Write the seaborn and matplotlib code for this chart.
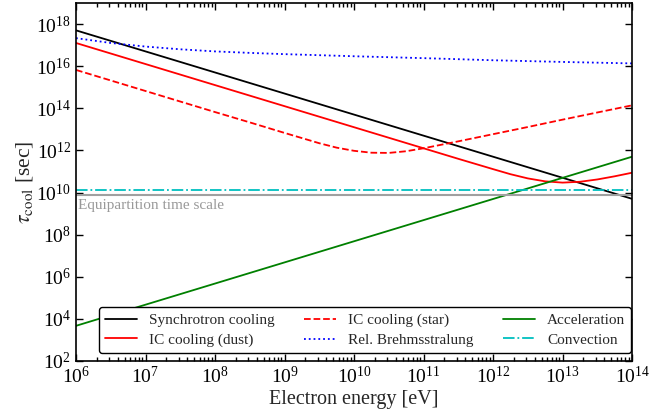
import numpy as np
import seaborn as sns
import matplotlib
matplotlib.use("Agg")
import matplotlib.pyplot as plt
from matplotlib.ticker import LogLocator, NullLocator

# values, stored as log10 (energy in eV, time in sec)
sync_logE = [6, 14]
sync_logt = [17.7, 9.7]

dust_logE = [6, 7, 8, 9, 10, 11, 11.5, 12, 12.25, 12.5, 12.75, 13, 13.25, 13.5, 13.75, 14]
dust_logt = [17.1, 16.1, 15.1, 14.1, 13.1, 12.1, 11.6, 11.11, 10.87, 10.67, 10.53, 10.47, 10.51, 10.62, 10.77, 10.94]

star_logE = [6, 7, 8, 8.5, 9, 9.5, 9.75, 10, 10.25, 10.5, 10.75, 11, 11.5, 12, 12.5, 13, 13.5, 14]
star_logt = [15.82, 14.82, 13.82, 13.33, 12.83, 12.34, 12.13, 11.98, 11.89, 11.88, 11.96, 12.1, 12.43, 12.77, 13.11, 13.46, 13.8, 14.14]

brems_logE = [6, 6.5, 7, 7.5, 8, 8.5, 9, 10, 11, 12, 13, 14]
brems_logt = [17.33, 17.1, 16.93, 16.8, 16.7, 16.63, 16.57, 16.47, 16.38, 16.28, 16.2, 16.13]

acc_logE = [6, 14]
acc_logt = [3.67, 11.7]

conv_logE = [6, 14]
conv_logt = [10.14, 10.14]

equip_logt = 9.87

series = [
    ("Synchrotron cooling", sync_logE, sync_logt, "#000000", "-"),
    ("IC cooling (dust)", dust_logE, dust_logt, "#ff0000", "-"),
    ("IC cooling (star)", star_logE, star_logt, "#ff0000", "--"),
    ("Rel. Brehmsstralung", brems_logE, brems_logt, "#0000ff", ":"),
    ("Acceleration", acc_logE, acc_logt, "#008000", "-"),
    ("Convection", conv_logE, conv_logt, "#00bfbf", "-."),
]

sns.set_theme(style="ticks")
plt.rcParams["font.family"] = ["Liberation Serif", "DejaVu Serif"]
plt.rcParams["mathtext.fontset"] = "stix"
plt.rcParams["xtick.direction"] = "in"
plt.rcParams["ytick.direction"] = "in"

fig = plt.figure(figsize=(6.62, 4.12), dpi=100)
ax = fig.add_axes([0.1148, 0.1238, 0.840, 0.869])

for name, le, lt, col, ls in series:
    sns.lineplot(x=10.0 ** np.array(le), y=10.0 ** np.array(lt), ax=ax,
                 color=col, linestyle=ls, lw=1.3, label=name)

ax.axhline(10 ** equip_logt, color="#a0a0a0", lw=1.5)
ax.text(1.07e6, 10 ** 9.38, "Equipartition time scale", color="#999999",
        fontsize=11, ha="left", va="center")

ax.set_xscale("log")
ax.set_yscale("log")
ax.set_xlim(1e6, 1e14)
ax.set_ylim(1e2, 1e19)

ax.xaxis.set_major_locator(LogLocator(base=10, numticks=30))
ax.xaxis.set_minor_locator(LogLocator(base=10, subs=np.arange(2, 10), numticks=200))
ax.set_yticks([10.0 ** k for k in range(2, 19, 2)])
ax.yaxis.set_minor_locator(NullLocator())

ax.tick_params(which="both", top=True, right=True, direction="in", colors="black")
ax.tick_params(which="major", length=5, width=1, labelsize=14)
ax.tick_params(which="minor", length=3, width=1)
for sp in ax.spines.values():
    sp.set_color("black")
    sp.set_linewidth(1.2)

ax.set_xlabel("Electron energy [eV]", fontsize=14.5, labelpad=2)
ax.set_ylabel(r"$\tau_{\rm cool}$ [sec]", fontsize=15.5, labelpad=1)

leg = ax.legend(ncol=3, loc="lower left", bbox_to_anchor=(0.041, 0.022),
                borderaxespad=0, fontsize=11, handlelength=2.1, handletextpad=0.8,
                columnspacing=1.9, labelspacing=0.4, frameon=True, fancybox=True,
                framealpha=1)
leg.get_frame().set_edgecolor("black")
leg.get_frame().set_linewidth(1.0)

fig.savefig("out.png", dpi=100)
